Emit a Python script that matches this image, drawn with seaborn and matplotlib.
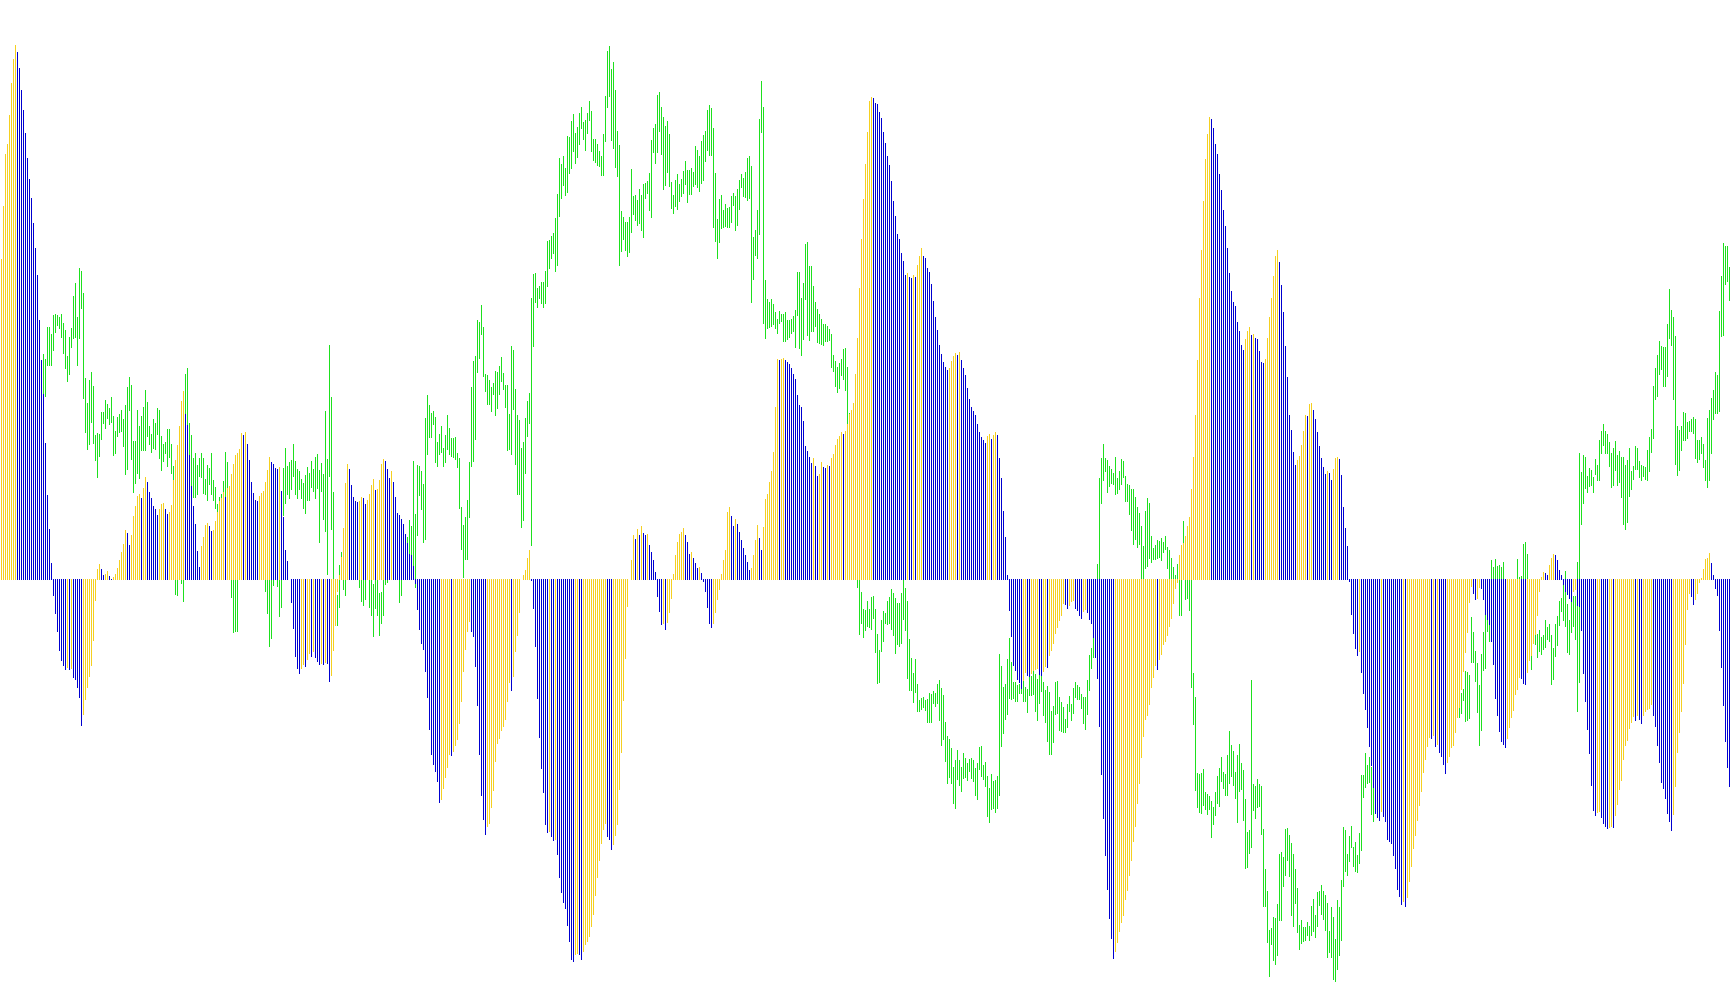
import numpy as np
import pandas as pd
import matplotlib
matplotlib.use("Agg")
import matplotlib.pyplot as plt
import seaborn as sns

N = None

# Oscillator histogram, one value per bar
hist = [
321,374,426,436,465,497,521,535,528,512,
490,470,447,422,401,382,357,332,305,260,
220,186,137,85,51,17,-16,-34,-52,-71,
-81,-86,-90,-88,-90,-89,-98,-100,-108,-118,
-146,-135,-120,-108,-97,-86,-61,-21,11,16,
11,5,6,9,4,1,3,6,12,20,
28,36,50,47,35,45,64,74,84,86,
82,92,103,98,88,82,74,71,65,71,
76,77,71,66,68,75,100,120,135,154,
179,189,166,155,125,94,74,56,29,13,
34,43,55,57,54,49,50,59,68,79,
82,88,83,92,94,106,116,125,127,131,
147,145,148,136,120,98,87,80,79,84,
87,89,98,110,123,118,116,112,111,113,
89,63,30,19,0,-23,-49,-77,-89,-94,
-89,-85,-87,-80,-74,-77,-72,-78,-82,-85,
-84,-85,-83,-84,-102,-96,-71,-46,-12,5,
23,52,97,116,111,95,83,79,78,79,
83,82,76,80,86,95,101,90,91,100,
116,121,119,111,102,109,98,83,67,65,
61,56,46,37,26,25,14,-4,-30,-50,
-64,-70,-92,-118,-150,-175,-185,-192,-202,-223,
-220,-209,-198,-188,-175,-176,-172,-166,-160,-144,
-122,-92,-70,-52,-42,-52,-57,-87,-126,-175,
-216,-240,-255,-247,-244,-228,-211,-182,-164,-159,
-151,-147,-140,-122,-103,-111,-97,-72,-56,-33,
0,5,10,22,30,-1,-29,-67,-119,-158,
-189,-213,-245,-253,-252,-257,-261,-260,-275,-298,
-313,-323,-329,-346,-362,-380,-382,-375,-374,-375,
-380,-372,-365,-362,-357,-347,-335,-316,-298,-281,
-264,-250,-244,-257,-260,-270,-265,-256,-245,-210,
-173,-121,-79,-27,0,20,45,41,51,45,
54,47,45,46,35,28,20,8,-17,-32,
-45,-44,-50,-43,-33,-19,6,25,38,46,
48,52,45,38,26,28,22,17,12,13,
7,-2,-12,-28,-44,-48,-44,-33,-20,-10,
6,20,30,68,73,64,54,61,56,48,
40,32,25,18,10,12,25,40,55,42,
30,53,81,86,98,109,128,173,221,220,
221,222,220,218,216,212,206,201,185,175,
173,159,134,129,123,117,122,114,104,106,
118,113,112,115,114,122,126,135,141,144,
148,146,149,156,166,170,177,206,242,292,
341,381,416,448,479,483,482,477,476,468,
462,448,437,424,415,399,379,364,346,341,
327,319,305,307,303,302,305,303,315,324,
332,324,322,312,308,296,279,263,250,235,
226,218,213,210,212,219,224,227,225,228,
220,212,205,192,181,173,169,165,156,148,
143,140,137,144,146,141,145,148,145,122,
102,69,43,5,-31,-57,-86,-91,-100,-103,
-109,-101,-93,-96,-97,-94,-91,-90,-89,-95,
-96,-92,-87,-88,-76,-71,-64,-54,-48,-41,
-36,-24,-25,-29,-26,-22,-21,-29,-31,-36,
-39,-32,-30,-33,-40,-44,-58,-78,-99,-147,
-195,-239,-276,-310,-339,-359,-379,-372,-363,-352,
-343,-336,-320,-311,-296,-281,-262,-247,-224,-204,
-178,-157,-140,-136,-125,-108,-98,-86,-90,-80,
-75,-65,-62,-56,-47,-39,-24,-9,-3,25,
35,37,44,54,63,91,123,165,220,282,
330,379,421,446,463,461,452,436,426,406,
390,370,354,332,307,289,278,274,258,249,
235,230,241,249,253,245,246,242,241,229,
218,217,221,242,263,282,304,324,330,318,
295,268,234,203,165,150,128,115,120,124,
135,149,165,164,176,177,170,161,148,134,
122,113,106,109,107,100,111,122,123,121,
105,73,52,34,-2,-35,-54,-69,-76,-72,
-93,-114,-130,-148,-167,-186,-208,-234,-238,-241,
-232,-237,-242,-260,-262,-264,-276,-289,-310,-317,
-325,-322,-327,-318,-302,-287,-269,-256,-241,-226,
-212,-193,-180,-167,-158,-159,-156,-167,-165,-173,
-177,-185,-194,-183,-177,-168,-166,-153,-138,-128,
-110,-92,-73,-53,-23,-7,-14,-20,-19,-8,
-9,-20,-35,-40,-45,-62,-85,-119,-136,-152,
-162,-165,-168,-159,-148,-138,-131,-115,-110,-98,
-99,-104,-105,-93,-81,-76,-64,-55,-36,-12,
3,8,7,5,15,22,26,25,20,10,
5,-5,-12,-15,-19,-22,-12,-10,-26,-27,
-51,-94,-122,-150,-174,-206,-231,-236,-233,-232,
-238,-244,-247,-249,-248,-247,-248,-236,-225,-210,
-201,-180,-166,-161,-149,-143,-137,-141,-136,-140,
-144,-136,-132,-130,-129,-125,-136,-147,-166,-183,
-203,-209,-219,-234,-242,-251,-235,-207,-173,-153,
-132,-104,-65,-30,-14,-17,-25,-20,-14,-3,
2,11,21,22,27,17,5,-9,-16,-51,
-88,-126,-162,-188,-207,
]

# Price high per bar; None where the bar is hidden behind the histogram
price_high = [
N,N,N,N,N,N,N,N,N,N,
N,N,N,N,N,N,N,N,N,N,
N,225,220,252,252,245,264,265,264,262,
265,256,249,223,242,251,283,296,262,311,
308,286,201,176,199,207,193,144,146,145,
167,167,179,175,171,182,163,148,162,165,
169,160,174,192,202,194,138,138,169,153,
163,172,189,177,153,145,160,156,171,169,
143,135,137,150,150,135,113,0,0,N,
0,0,205,211,156,144,121,126,114,121,
126,121,100,114,111,126,99,92,75,82,
85,98,127,117,N,0,0,0,0,N,
N,N,N,N,N,N,N,N,N,N,
N,N,0,0,0,0,0,N,0,0,
0,111,131,113,117,119,135,118,110,108,
100,96,104,112,106,118,110,122,125,109,
116,105,168,120,234,182,87,-40,-16,14,
27,0,0,N,N,N,N,N,N,0,
0,0,0,N,0,0,-5,0,0,-14,
-13,0,0,0,N,N,N,N,N,0,
0,N,N,42,59,53,118,65,114,113,
108,95,161,184,174,166,168,162,137,145,
153,131,144,164,151,141,141,142,126,121,
72,54,62,79,117,192,218,223,259,257,
274,252,205,204,199,192,196,208,207,213,
222,206,194,194,165,233,229,190,164,159,
131,137,161,178,186,281,305,306,291,293,
297,297,308,338,339,343,346,361,385,421,
415,423,411,443,442,458,465,446,452,466,
472,457,459,466,478,468,440,440,435,428,
423,445,483,528,533,510,517,489,448,434,
368,362,357,357,362,410,383,384,379,390,
384,395,396,398,406,439,451,455,484,487,
472,462,453,458,445,397,384,399,405,395,
400,408,418,409,409,411,407,433,429,423,
438,444,448,469,474,471,451,406,360,380,
384,369,375,371,372,383,386,383,390,399,
405,401,407,421,423,413,342,349,369,460,
498,472,299,280,277,280,275,267,260,268,
265,265,267,259,259,260,263,269,307,307,
281,296,335,337,313,313,293,277,270,265,
260,255,255,253,250,245,224,218,212,216,
220,230,231,212,166,N,N,N,0,0,
-13,-30,-31,-22,-30,-18,-17,-30,-55,-71,
-41,-32,-34,-22,-18,-10,-14,-19,-24,-24,
-14,-1,-9,-22,-60,-79,-94,-80,-105,-121,
-119,-118,-121,-120,-114,-115,-112,-114,-105,-101,
-109,-116,-143,-157,-160,-169,-188,-181,-171,-181,
-188,-174,-179,-184,-180,-179,-181,-189,-184,-168,
-167,-186,-183,-197,-209,-195,-202,-201,-197,-75,
-87,-108,-105,-80,-59,-83,-103,-103,-106,-105,
-108,-101,-108,-110,-97,-97,-91,-95,-100,-96,
-95,-103,-111,-107,-113,-132,-127,-103,-102,-118,
-123,-128,-140,-125,-117,-125,-109,-103,-106,-108,
-115,-118,-118,-101,-76,-69,-58,N,15,101,
121,135,121,119,113,110,106,122,101,108,
120,118,103,95,94,90,90,82,72,66,
53,33,68,81,76,43,31,34,39,38,
41,37,43,32,29,21,12,4,15,0,
0,58,0,0,0,0,-94,-118,-194,-195,
-194,-190,-213,-215,-217,-222,-228,-213,-197,-189,
-178,-193,-195,-176,-152,-166,-172,-193,-176,-165,
-184,-191,-220,-253,-251,-101,-205,-207,-200,-205,
-207,-250,-290,-312,-351,-349,-338,-339,-325,-275,
-273,-278,-250,-249,-256,-264,-275,-290,-309,-346,
-341,-348,-348,-343,-347,-327,-320,-336,-313,-312,
-306,-312,-316,-324,-352,-328,-338,-360,-321,-328,
-301,-248,-251,-275,-257,-247,-268,-263,-276,-254,
-196,-196,-174,-186,-178,-188,-208,N,N,N,
N,N,N,N,N,N,N,N,N,N,
N,N,N,N,N,N,N,N,N,N,
N,N,N,N,N,N,N,N,N,N,
N,N,N,N,N,N,N,N,N,-116,
-114,-110,-92,-93,-96,-38,-53,-72,-84,-106,
-75,-53,-36,-40,-45,19,12,20,13,14,
12,17,N,N,N,N,N,N,20,2,
3,35,37,25,-75,-75,N,-55,-55,-51,
-58,-56,-41,-48,-45,-56,-69,-45,-37,-22,
-19,-5,8,-25,-41,-22,-17,-17,17,126,
107,124,122,103,111,109,102,120,114,139,
148,155,148,145,137,126,131,138,124,128,
122,122,114,119,131,108,113,133,131,118,
114,113,112,129,142,150,193,211,224,238,
233,232,232,255,290,269,262,243,153,149,
153,167,166,157,158,160,162,160,139,139,
142,135,119,161,169,181,189,207,204,268,
303,336,333,333,312,
]

# Price low per bar
price_low = [
N,N,N,N,N,N,N,N,N,N,
N,N,N,N,N,N,N,N,N,N,
N,180,183,214,214,214,229,247,254,251,
242,226,211,198,205,232,241,242,214,241,
271,181,147,130,135,157,136,119,102,123,
140,156,151,161,155,157,124,126,143,147,
148,133,105,110,169,120,87,96,106,101,
129,129,129,143,135,127,131,130,145,121,
109,118,126,113,122,106,100,-15,-16,N,
-4,-22,166,155,125,94,82,82,85,103,
102,86,85,79,95,85,79,71,68,79,
82,85,83,92,N,-18,-53,-52,-52,N,
N,N,N,N,N,N,N,N,N,N,
N,N,-12,-34,-67,-59,-6,N,-7,-37,
-28,64,76,85,81,90,103,85,81,90,
81,71,66,79,79,92,88,81,91,37,
88,60,48,5,103,50,1,-46,-46,-28,
23,-10,-16,N,N,N,N,N,N,-8,
-22,-26,-20,N,-28,-36,-57,-29,-36,-56,
-44,-36,-5,-3,N,N,N,N,N,-23,
-16,N,N,37,25,25,14,-8,44,84,
70,37,40,125,142,142,155,117,113,125,
127,113,117,130,125,123,122,120,112,71,
30,2,20,20,62,113,118,140,207,221,
245,203,188,175,175,168,185,164,171,185,
198,190,172,129,130,125,170,115,85,85,
52,59,106,143,156,34,233,277,272,281,
276,272,276,293,311,321,326,308,314,363,
381,394,384,387,406,411,428,416,422,435,
451,440,429,446,459,428,419,417,414,413,
404,404,438,472,483,439,431,412,403,314,
328,340,329,323,327,347,365,359,354,356,
349,342,381,386,369,362,427,416,427,448,
425,390,394,407,393,371,366,373,370,378,
383,386,395,377,385,385,393,395,392,388,
396,399,418,429,424,424,352,338,321,337,
351,352,353,352,352,357,374,349,354,370,
392,383,382,379,381,277,300,324,321,345,
447,256,241,251,252,253,255,251,246,256,
258,238,238,240,242,246,248,232,264,231,
224,240,280,244,239,248,248,253,237,236,
235,234,238,238,239,212,208,193,187,191,
204,200,189,156,160,N,N,N,-8,-55,
-44,-58,-51,-47,-48,-50,-39,-73,-104,-103,
-72,-62,-44,-45,-44,-50,-56,-74,-65,-67,
-64,-40,-51,-99,-111,-111,-123,-113,-132,-132,
-130,-128,-131,-143,-143,-143,-124,-127,-124,-141,
-166,-160,-182,-204,-198,-204,-224,-229,-200,-206,
-212,-199,-198,-201,-192,-199,-202,-216,-220,-190,
-197,-200,-207,-237,-243,-230,-229,-233,-229,-216,
-167,-154,-140,-135,-119,-120,-119,-122,-122,-114,
-114,-122,-122,-133,-116,-116,-115,-132,-141,-124,
-112,-136,-143,-162,-175,-175,-163,-135,-134,-151,
-152,-153,-153,-148,-132,-141,-134,-118,-120,-120,
-129,-144,-150,-135,-111,-89,-78,N,-90,-100,
76,99,108,87,93,96,95,85,86,90,
95,102,78,78,65,49,35,40,32,35,
0,0,11,13,21,17,20,20,21,22,
19,27,30,11,0,0,0,-9,-3,-36,
-36,37,-20,-19,-31,-108,-145,-211,-228,-233,
-234,-226,-230,-235,-230,-258,-245,-236,-224,-227,
-202,-209,-216,-216,-204,-197,-206,-219,-243,-212,
-210,-241,-289,-288,-274,-268,-231,-239,-228,-227,
-255,-327,-327,-363,-397,-365,-381,-385,-376,-341,
-341,-307,-296,-281,-297,-336,-347,-324,-353,-370,
-364,-362,-361,-356,-361,-356,-352,-358,-347,-326,
-335,-340,-351,-378,-373,-378,-400,-402,-390,-376,
-361,-307,-292,-296,-282,-268,-287,-292,-293,-284,
-271,-218,-208,-204,-203,-235,-242,N,N,N,
N,N,N,N,N,N,N,N,N,N,
N,N,N,N,N,N,N,N,N,N,
N,N,N,N,N,N,N,N,N,N,
N,N,N,N,N,N,N,N,N,-138,
-134,-121,-142,-141,-139,-83,-83,-102,-133,-166,
-151,-91,-89,-52,-62,-10,-10,-10,-10,-10,
-10,-10,N,N,N,N,N,N,0,0,
-10,-10,-10,-10,-81,-90,N,-65,-78,-72,
-75,-70,-68,-60,-62,-105,-100,-77,-66,-46,
-32,-41,-47,-73,-75,-53,-47,-60,-132,-103,
55,76,91,87,93,94,87,105,99,99,
126,134,126,126,113,92,94,109,94,97,
82,55,50,57,83,90,100,110,110,102,
99,103,100,99,108,127,141,180,183,205,
210,193,193,203,241,234,180,115,104,109,
129,139,139,141,148,148,146,121,117,120,
126,112,99,92,99,126,160,166,166,168,
243,244,295,298,279,
]

assert len(hist) == len(price_high) == len(price_low), (len(hist), len(price_high), len(price_low))

BLUE, GOLD, GREEN = "#0000D0", "#F5D020", "#1EE01E"

idx = np.arange(len(hist))
direction = ["up" if i == 0 or hist[i] > hist[i - 1] else "down" for i in idx]
bars = pd.DataFrame({"bar": idx, "value": hist, "direction": direction})

rows = []
for i, (h, l) in enumerate(zip(price_high, price_low)):
    if h is not None:
        rows += [(i, h), (i, l)]
price = pd.DataFrame(rows, columns=["bar", "price"])

sns.set_theme(style="white")
fig = plt.figure(figsize=(17.30, 10.051), dpi=100)
ax = fig.add_axes([0, 0, 1, 1])

sns.lineplot(data=price, x="bar", y="price", units="bar", estimator=None,
             color=GREEN, linewidth=0.72, antialiased=False, snap=False,
             solid_capstyle="butt", zorder=0.5, ax=ax, legend=False)
sns.barplot(data=bars, x="bar", y="value", hue="direction",
            palette={"up": GOLD, "down": BLUE}, dodge=False, native_scale=True,
            width=0.5, saturation=1, linewidth=0, errorbar=None, legend=False, ax=ax)

for p in ax.patches:
    p.set_antialiased(False)
    h = p.get_height()
    if h < 0:  # the falling side starts one pixel row higher
        p.set_y(1.0)
        p.set_height(h - 1.0)

ax.set_xlim(-0.75, 864.25)
ax.set_ylim(-425, 580)
ax.axis("off")
fig.savefig("out.png", dpi=100, facecolor="white")
